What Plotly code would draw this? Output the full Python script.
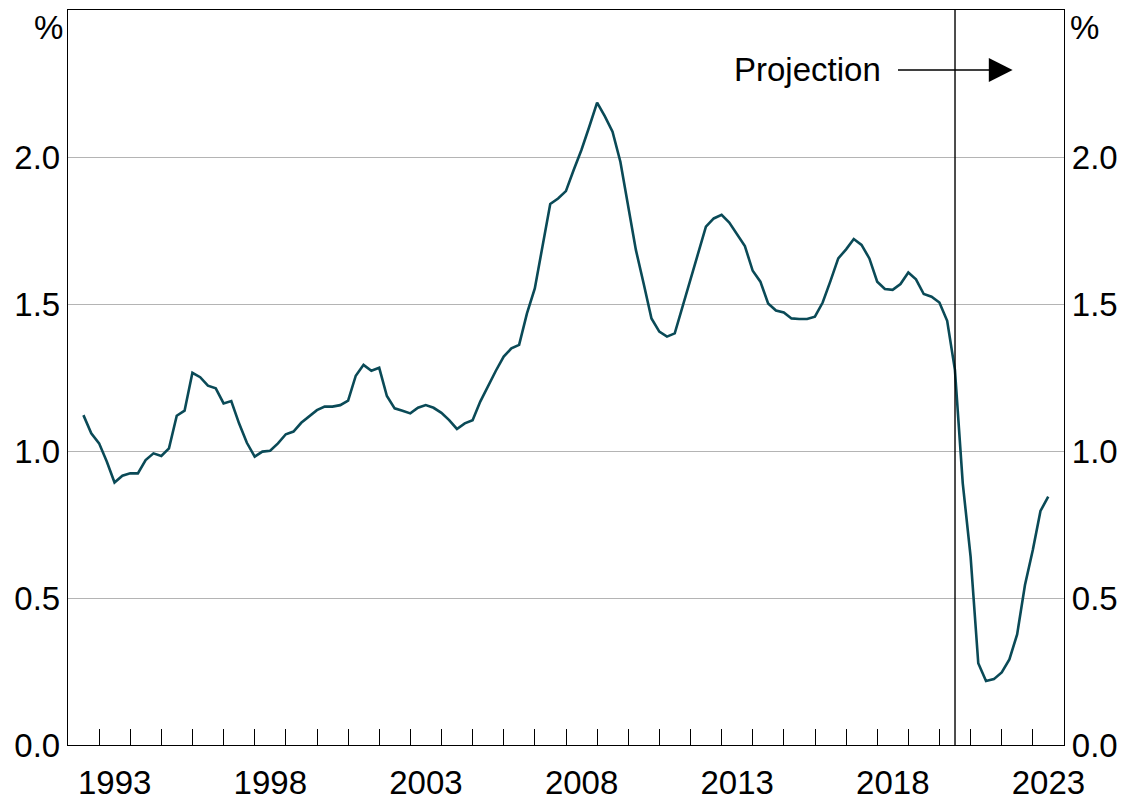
import pandas as pd
import plotly.graph_objects as go

# Quarterly values (%), starting June quarter 1992
values = [
    1.122, 1.060, 1.026, 0.964, 0.893, 0.916, 0.924, 0.924, 0.969, 0.992,
    0.983, 1.009, 1.120, 1.137, 1.266, 1.251, 1.222, 1.213, 1.162, 1.170,
    1.094, 1.028, 0.981, 0.998, 1.001, 1.026, 1.057, 1.066, 1.096, 1.117,
    1.139, 1.151, 1.151, 1.156, 1.171, 1.256, 1.293, 1.273, 1.283, 1.187,
    1.145, 1.137, 1.128, 1.147, 1.156, 1.147, 1.130, 1.105, 1.075, 1.094,
    1.105, 1.168, 1.221, 1.273, 1.321, 1.349, 1.361, 1.468, 1.553, 1.695,
    1.840, 1.859, 1.884, 1.956, 2.024, 2.103, 2.185, 2.139, 2.086, 1.984,
    1.825, 1.684, 1.570, 1.451, 1.406, 1.389, 1.400, 1.491, 1.576, 1.667,
    1.763, 1.791, 1.803, 1.777, 1.738, 1.697, 1.613, 1.576, 1.502, 1.478,
    1.471, 1.451, 1.449, 1.449, 1.457, 1.505, 1.578, 1.655, 1.686, 1.721,
    1.701, 1.655, 1.576, 1.551, 1.548, 1.568, 1.607, 1.584, 1.534, 1.525,
    1.505, 1.443, 1.276, 0.890, 0.641, 0.278, 0.218, 0.224, 0.247, 0.291,
    0.376, 0.544, 0.663, 0.796, 0.845,
]
dates = pd.date_range("1992-06-30", periods=len(values), freq="QE")

year_ticks = [f"{y}-01-01" for y in range(1993, 2024)]
label_years = [1993, 1998, 2003, 2008, 2013, 2018, 2023]
label_pos = [f"{y}-07-02" for y in label_years]
label_text = [str(y) for y in label_years]
y_ticks = [0.0, 0.5, 1.0, 1.5, 2.0]
y_text = ["0.0", "0.5", "1.0", "1.5", "2.0"]
projection_start = "2020-07-01"

FONT = "Arial, Liberation Sans, Arimo, sans-serif"
LINE_COLOR = "#0a4a57"

fig = go.Figure()
fig.add_trace(go.Scatter(x=dates, y=values, mode="lines",
                         line=dict(color=LINE_COLOR, width=2.6),
                         showlegend=False, hoverinfo="skip"))
fig.add_trace(go.Scatter(x=dates, y=values, mode="lines", yaxis="y2",
                         line=dict(color="rgba(0,0,0,0)", width=0),
                         showlegend=False, hoverinfo="skip"))

fig.update_layout(
    width=1118, height=793,
    margin=dict(l=60, r=62, t=2, b=56, autoexpand=False),
    paper_bgcolor="white", plot_bgcolor="white",
    font=dict(family=FONT, size=33, color="black"),
    xaxis=dict(
        type="date", range=["1992-01-01", "2024-01-01"], automargin=False,
        tickmode="array", tickvals=label_pos, ticktext=label_text,
        ticks="", showgrid=False, zeroline=False,
        showline=True, linecolor="black", linewidth=1.4, mirror=True,
        tickfont=dict(size=33), ticklabelstandoff=8,
        minor=dict(tickmode="array", tickvals=year_ticks, ticks="inside",
                   ticklen=16, tickwidth=1.4, tickcolor="black", showgrid=False),
    ),
    yaxis=dict(
        range=[0, 2.5], tickmode="array", tickvals=y_ticks, ticktext=y_text,
        ticks="", showgrid=True, gridcolor="#b4b4b4", gridwidth=1.4,
        automargin=False,
        zeroline=False, showline=True, linecolor="black", linewidth=1.4,
        tickfont=dict(size=33), ticklabelstandoff=0,
    ),
    yaxis2=dict(
        range=[0, 2.5], overlaying="y", side="right", tickmode="array",
        tickvals=y_ticks, ticktext=y_text, ticks="", showgrid=False,
        automargin=False,
        zeroline=False, showline=True, linecolor="black", linewidth=1.4,
        tickfont=dict(size=33), ticklabelstandoff=0,
    ),
)

fig.add_shape(type="line", xref="x", yref="paper",
              x0=projection_start, x1=projection_start, y0=0, y1=1,
              line=dict(color="black", width=1.4))

fig.add_annotation(xref="paper", yref="paper", x=-0.003, y=1.004,
                   xanchor="right", yanchor="top", text="%", showarrow=False,
                   font=dict(size=33))
fig.add_annotation(xref="paper", yref="paper", x=1.004, y=1.004,
                   xanchor="left", yanchor="top", text="%", showarrow=False,
                   font=dict(size=33))

fig.add_annotation(xref="x", yref="y", x="2018-03-04", y=2.296,
                   xanchor="right", yanchor="middle", text="Projection",
                   showarrow=False, font=dict(size=33))
fig.add_annotation(xref="x", yref="y", axref="x", ayref="y",
                   x="2022-05-08", y=2.296, ax="2018-08-14", ay=2.296,
                   text="", showarrow=True, arrowhead=2, arrowsize=3.4,
                   arrowwidth=1.4, arrowcolor="black", standoff=0)

fig.write_html("out.html")
